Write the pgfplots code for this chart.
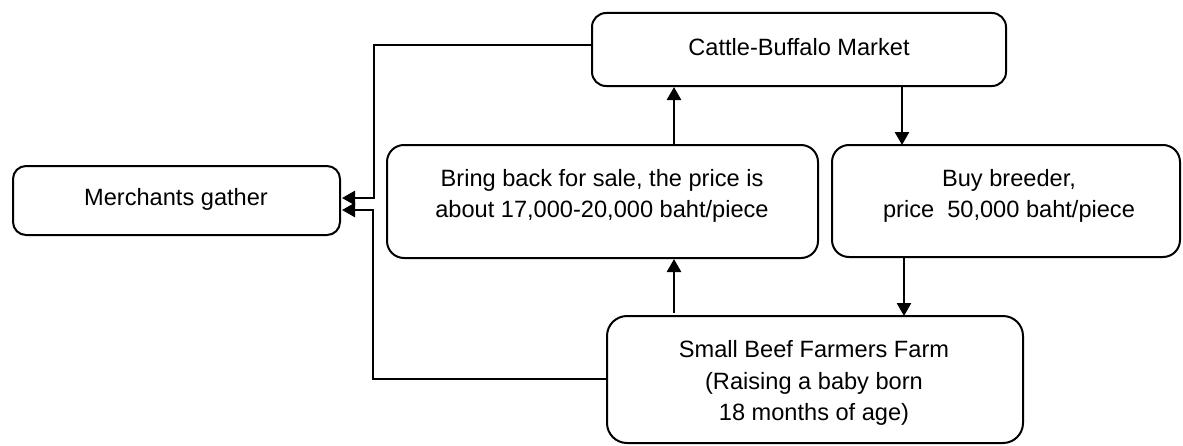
\documentclass[border=0pt]{standalone}
\usepackage{fontspec}
\setmainfont{Liberation Sans}
\usepackage{pgfplots}
\pgfplotsset{compat=1.18}
\usetikzlibrary{arrows.meta}
\begin{document}
\begin{tikzpicture}
\begin{axis}[scale only axis, width=1183bp, height=445bp,
  xmin=0, xmax=1183, ymin=0, ymax=445, y dir=reverse,
  hide axis, clip=false]
\addplot[draw=none, forget plot] coordinates {(0,0) (1183,445)};
% boxes
\addplot[black, line width=2bp, rounded corners=14bp, forget plot] coordinates {(592,13) (1006,13) (1006,86) (592,86)} -- cycle;
\addplot[black, line width=2bp, rounded corners=13bp, forget plot] coordinates {(13,166) (340,166) (340,235) (13,235)} -- cycle;
\addplot[black, line width=2bp, rounded corners=17bp, forget plot] coordinates {(387,145) (818,145) (818,258) (387,258)} -- cycle;
\addplot[black, line width=2bp, rounded corners=17bp, forget plot] coordinates {(832,145) (1180,145) (1180,257) (832,257)} -- cycle;
\addplot[black, line width=2bp, rounded corners=20bp, forget plot] coordinates {(607,316) (1023,316) (1023,443) (607,443)} -- cycle;
% arrows
\addplot[black, line width=2.6bp, -{Triangle[length=13bp,width=14bp]}, forget plot] coordinates {(592,45) (374,45) (374,198) (342,198)};
\addplot[black, line width=2.6bp, -{Triangle[length=13bp,width=14bp]}, forget plot] coordinates {(607,379) (373,379) (373,210) (342,210)};
\addplot[black, line width=2.6bp, -{Triangle[length=13bp,width=14bp]}, forget plot] coordinates {(674,145) (674,87)};
\addplot[black, line width=2.6bp, -{Triangle[length=13bp,width=14bp]}, forget plot] coordinates {(674,313) (674,259)};
\addplot[black, line width=2.6bp, -{Triangle[length=13bp,width=14bp]}, forget plot] coordinates {(902,87) (902,145)};
\addplot[black, line width=2.6bp, -{Triangle[length=13bp,width=14bp]}, forget plot] coordinates {(904,257) (904,316)};
% texts
\begin{scope}[every node/.style={align=center, text=black, font=\fontsize{23.6bp}{31.7bp}\selectfont, inner sep=0pt}]
\node at (axis cs:799,47) {Cattle-Buffalo Market};
\node at (axis cs:176,199) {Merchants gather};
\node at (axis cs:602,196) {Bring back for sale, the price is\\about 17,000-20,000 baht/piece};
\node at (axis cs:1009,196) {Buy breeder,\\price\ \ 50,000 baht/piece};
\node at (axis cs:814,383) {Small Beef Farmers Farm\\(Raising a baby born\\18 months of age)};
\end{scope}
\end{axis}
\end{tikzpicture}
\end{document}
